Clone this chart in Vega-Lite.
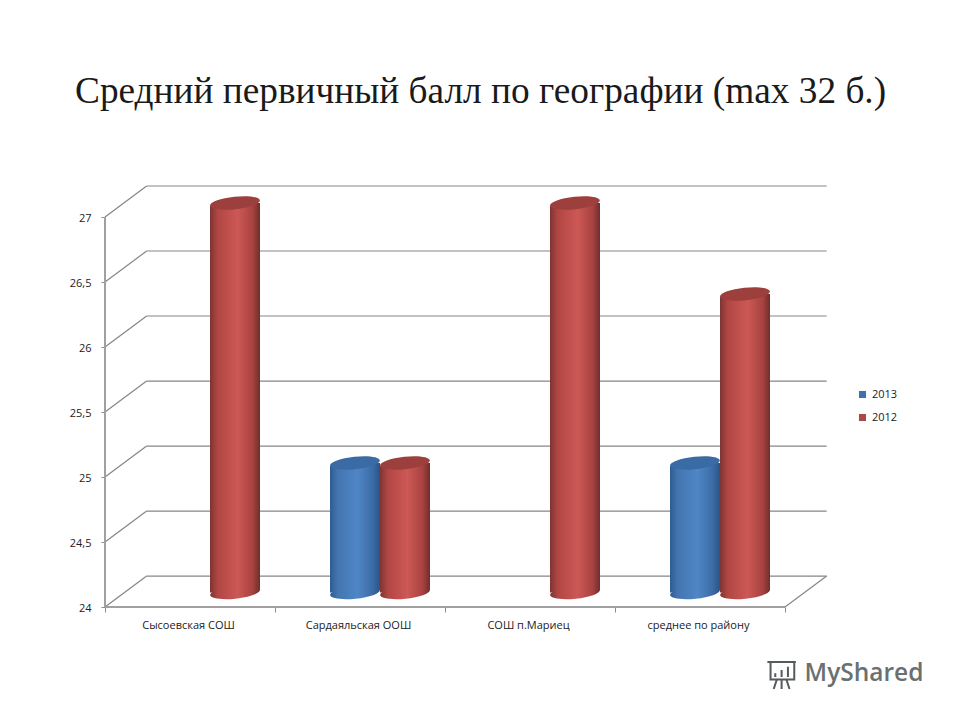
{
  "$schema": "https://vega.github.io/schema/vega-lite/v6.json",
  "description": "Средний первичный балл по географии, 2013 и 2012",
  "width": 722,
  "height": 421,
  "autosize": "none",
  "padding": {"left": 105, "top": 186, "right": 133, "bottom": 113},
  "background": "#ffffff",
  "config": {"view": {"stroke": null}},
  "title": {
    "text": "Средний первичный балл по географии (max 32 б.)",
    "font": "Liberation Serif",
    "fontSize": 37.3,
    "fontWeight": "normal",
    "color": "#1a1a1a",
    "anchor": "start",
    "frame": "group",
    "dx": -30,
    "offset": 74
  },
  "datasets": {
    "walls": [
      {"x": 0.245, "x2": 4.245, "y": 24.238, "y2": 24.238},
      {"x": 0.245, "x2": 4.245, "y": 24.738, "y2": 24.738},
      {"x": 0.245, "x2": 4.245, "y": 25.238, "y2": 25.238},
      {"x": 0.245, "x2": 4.245, "y": 25.738, "y2": 25.738},
      {"x": 0.245, "x2": 4.245, "y": 26.238, "y2": 26.238},
      {"x": 0.245, "x2": 4.245, "y": 26.738, "y2": 26.738},
      {"x": 0.245, "x2": 4.245, "y": 27.238, "y2": 27.238},
      {"x": 0, "x2": 0.245, "y": 24, "y2": 24.238},
      {"x": 0, "x2": 0.245, "y": 24.5, "y2": 24.738},
      {"x": 0, "x2": 0.245, "y": 25, "y2": 25.238},
      {"x": 0, "x2": 0.245, "y": 25.5, "y2": 25.738},
      {"x": 0, "x2": 0.245, "y": 26, "y2": 26.238},
      {"x": 0, "x2": 0.245, "y": 26.5, "y2": 26.738},
      {"x": 0, "x2": 0.245, "y": 27, "y2": 27.238},
      {"x": 4, "x2": 4.245, "y": 24, "y2": 24.238}
    ],
    "front": [
      {"x": 0, "x2": 4, "y": 24, "y2": 24},
      {"x": 0, "x2": 0, "y": 24, "y2": 27}
    ],
    "scores": [
      {"school": "Сысоевская СОШ", "year": "2012", "value": 27},
      {"school": "Сардаяльская  ООШ", "year": "2013", "value": 25},
      {"school": "Сардаяльская  ООШ", "year": "2012", "value": 25},
      {"school": "СОШ п.Мариец", "year": "2012", "value": 27},
      {"school": "среднее по району", "year": "2013", "value": 25},
      {"school": "среднее по району", "year": "2012", "value": 26.3}
    ]
  },
  "resolve": {"scale": {"x": "independent"}},
  "layer": [
    {
      "data": {"name": "walls"},
      "mark": {"type": "rule", "color": "#868686", "strokeWidth": 1.2},
      "encoding": {
        "x": {"field": "x", "type": "quantitative", "scale": {"domain": [0, 4.247], "nice": false, "zero": false}, "axis": null},
        "x2": {"field": "x2"},
        "y": {
          "field": "y",
          "type": "quantitative",
          "scale": {"domain": [24, 27.238], "nice": false, "zero": false},
          "axis": {
            "title": null,
            "values": [24, 24.5, 25, 25.5, 26, 26.5, 27],
            "format": ".1~f",
            "labelExpr": "replace(datum.label, '.', ',')",
            "labelFont": "Open Sans",
            "labelFontSize": 11,
            "labelColor": "#222222",
            "labelPadding": 10,
            "labelOffset": 1.5,
            "tickSize": 4,
            "tickColor": "#8c8c8c",
            "domain": false,
            "grid": false
          }
        },
        "y2": {"field": "y2"}
      }
    },
    {
      "data": {"name": "front"},
      "mark": {"type": "rule", "color": "#a0a0a0", "strokeWidth": 2},
      "encoding": {
        "x": {"field": "x", "type": "quantitative", "scale": {"domain": [0, 4.247], "nice": false, "zero": false}, "axis": null},
        "x2": {"field": "x2"},
        "y": {"field": "y", "type": "quantitative"},
        "y2": {"field": "y2"}
      }
    },
    {
      "data": {"name": "scores"},
      "encoding": {
        "x": {
          "field": "school",
          "type": "nominal",
          "sort": null,
          "bandPosition": 0,
          "scale": {"type": "band", "domain": ["Сысоевская СОШ", "Сардаяльская  ООШ", "СОШ п.Мариец", "среднее по району"], "range": [0, 680], "paddingInner": 0, "paddingOuter": 0},
          "axis": {
            "title": null,
            "labelAngle": 0,
            "labelFont": "Open Sans",
            "labelFontSize": 11,
            "labelColor": "#222222",
            "labelPadding": 7,
            "labelOffset": -2,
            "domain": false,
            "ticks": true,
            "tickBand": "extent",
            "tickSize": 5,
            "tickColor": "#8c8c8c",
            "grid": false
          }
        },
        "xOffset": {
          "field": "year",
          "type": "nominal",
          "scale": {"type": "point", "domain": ["2013", "2012"], "range": [80, 130], "padding": 0}
        }
      },
      "layer": [
        {
          "mark": {"type": "point", "filled": true, "opacity": 1, "size": 2500, "yOffset": -14.5, "shape": "M -0.9945 0.1045 C -1.0089 -0.0328 -0.5754 -0.1909 -0.0261 -0.2486 C 0.5232 -0.3063 0.9801 -0.2418 0.9945 -0.1045 C 1.0089 0.0328 0.5754 0.1909 0.0261 0.2486 C -0.5232 0.3063 -0.9801 0.2418 -0.9945 0.1045 Z"},
          "encoding": {
            "y": {"datum": 24, "type": "quantitative"},
            "fill": {
              "condition": {"test": "datum.year === '2013'", "value": {"gradient": "linear", "x1": 0, "x2": 1, "y1": 0, "y2": 0, "stops": [{"offset": 0, "color": "#2f5c90"}, {"offset": 0.15, "color": "#4375b0"}, {"offset": 0.55, "color": "#4f86c6"}, {"offset": 0.85, "color": "#3c6ca6"}, {"offset": 1, "color": "#2b5485"}]}},
              "value": {"gradient": "linear", "x1": 0, "x2": 1, "y1": 0, "y2": 0, "stops": [{"offset": 0, "color": "#7c3533"}, {"offset": 0.15, "color": "#b04643"}, {"offset": 0.55, "color": "#cd5855"}, {"offset": 0.85, "color": "#a84341"}, {"offset": 1, "color": "#6f2e2c"}]}
            }
          }
        },
        {
          "mark": {"type": "bar", "width": 50, "yOffset": -14, "y2Offset": -14.5, "cornerRadiusTopLeft": 4, "cornerRadiusBottomRight": 4},
          "encoding": {
            "y": {"field": "value", "type": "quantitative"},
            "y2": {"datum": 24},
            "fill": {
              "condition": {"test": "datum.year === '2013'", "value": {"gradient": "linear", "x1": 0, "x2": 1, "y1": 0, "y2": 0, "stops": [{"offset": 0, "color": "#2f5c90"}, {"offset": 0.15, "color": "#4375b0"}, {"offset": 0.55, "color": "#4f86c6"}, {"offset": 0.85, "color": "#3c6ca6"}, {"offset": 1, "color": "#2b5485"}]}},
              "value": {"gradient": "linear", "x1": 0, "x2": 1, "y1": 0, "y2": 0, "stops": [{"offset": 0, "color": "#7c3533"}, {"offset": 0.15, "color": "#b04643"}, {"offset": 0.55, "color": "#cd5855"}, {"offset": 0.85, "color": "#a84341"}, {"offset": 1, "color": "#6f2e2c"}]}
            }
          }
        },
        {
          "mark": {"type": "point", "filled": true, "opacity": 1, "size": 2500, "yOffset": -14, "shape": "M -0.9945 0.1045 C -1.0089 -0.0328 -0.5754 -0.1909 -0.0261 -0.2486 C 0.5232 -0.3063 0.9801 -0.2418 0.9945 -0.1045 C 1.0089 0.0328 0.5754 0.1909 0.0261 0.2486 C -0.5232 0.3063 -0.9801 0.2418 -0.9945 0.1045 Z"},
          "encoding": {
            "y": {"field": "value", "type": "quantitative"},
            "fill": {
              "condition": {"test": "datum.year === '2013'", "value": "#3a6ba4"},
              "value": "#9c3f3d"
            }
          }
        },
        {
          "mark": {"type": "square", "size": 0, "opacity": 1},
          "encoding": {
            "y": {"field": "value", "type": "quantitative"},
            "color": {
              "field": "year",
              "type": "nominal",
              "scale": {"domain": ["2013", "2012"], "range": ["#3f72ad", "#a94a48"]},
              "legend": {
                "title": null,
                "orient": "none",
                "legendX": 752,
                "legendY": 203,
                "symbolSize": 50,
                "symbolOpacity": 1,
                "symbolStrokeWidth": 0,
                "labelFont": "Open Sans",
                "labelFontSize": 11,
                "labelColor": "#222222",
                "rowPadding": 11,
                "labelOffset": 4
              }
            }
          }
        }
      ]
    },
    {
      "data": {"values": [{"x": 4.115, "y": 23.485, "label": "MyShared"}]},
      "mark": {"type": "text", "font": "Open Sans", "fontSize": 24.5, "fontWeight": 600, "color": "#6a6f70", "align": "left", "baseline": "middle"},
      "encoding": {
        "x": {"field": "x", "type": "quantitative", "scale": {"domain": [0, 4.247], "nice": false, "zero": false}, "axis": null},
        "y": {"field": "y", "type": "quantitative"},
        "text": {"field": "label"}
      }
    },
    {
      "data": {"values": [{"x": 3.98, "y": 23.485}]},
      "mark": {"type": "point", "filled": false, "opacity": 1, "size": 1000, "color": "#555a5b", "strokeWidth": 2, "shape": "M -0.9 -0.75 L 0.9 -0.75 M -0.7 -0.75 L -0.7 0.35 L 0.8 0.35 L 0.8 -0.75 M -0.4 0.2 L -0.4 -0.05 M 0 0.2 L 0 -0.25 M 0.4 0.2 L 0.4 -0.45 M -0.3 0.35 L -0.5 0.95 M 0 0.35 L 0 0.95 M 0.3 0.35 L 0.5 0.95"},
      "encoding": {
        "x": {"field": "x", "type": "quantitative", "scale": {"domain": [0, 4.247], "nice": false, "zero": false}, "axis": null},
        "y": {"field": "y", "type": "quantitative"}
      }
    }
  ]
}
